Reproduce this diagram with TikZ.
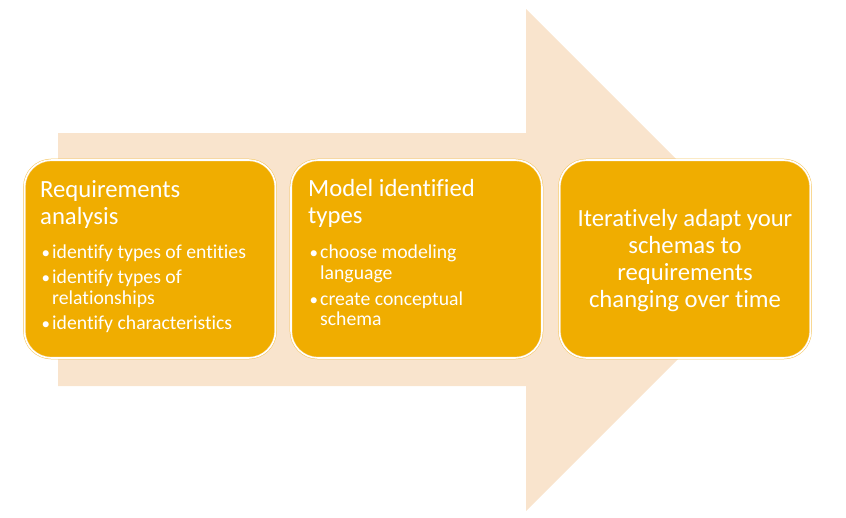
\documentclass[tikz,border=0pt]{standalone}
\usepackage{fontspec}
\setmainfont{Carlito}[Ligatures={NoCommon,NoContextual}]
\definecolor{arrowfill}{RGB}{249,228,205}
\definecolor{boxfill}{RGB}{240,173,0}
\definecolor{boxedge}{RGB}{245,196,90}
\newcommand{\bul}{\makebox[10.5pt][l]{\fontsize{17}{17}\selectfont•}}
\begin{document}
\begin{tikzpicture}[x=1pt,y=-1pt,
  stagebox/.style={draw=boxedge, line width=0.5pt, double=white, double distance=1.6pt,
    fill=boxfill, rounded corners=27pt, minimum width=251pt, minimum height=198pt, inner sep=0pt},
  titletext/.style={font=\fontsize{24.7}{27}\selectfont, text=white, inner sep=0pt, anchor=base west},
  bullettext/.style={font=\fontsize{19.7}{21}\selectfont, text=white, inner sep=0pt, anchor=base west},
  centertext/.style={font=\fontsize{24.7}{27}\selectfont, text=white, inner sep=0pt, anchor=base}
]
\useasboundingbox (0,0) rectangle (846,517);
% big background arrow
\fill[arrowfill] (58,133) -- (526,133) -- (526,9) -- (777,260) -- (526,511) -- (526,386) -- (58,386) -- cycle;
% stage boxes
\node[stagebox] (b1) at (150,259) {};
\node[stagebox] (b2) at (416.5,259) {};
\node[stagebox] (b3) at (685,259) {};
% box 1 text
\node[titletext] (t1a) at (40,197) {Requirements};
\node[titletext] (t1b) at (40,224) {analysis};
\node[bullettext] (t1c) at (41.5,258) {\bul identify types of entities};
\node[bullettext] (t1d) at (41.5,283) {\bul identify types of};
\node[bullettext] (t1e) at (52,304) {relationships};
\node[bullettext] (t1f) at (41.5,329) {\bul identify characteristics};
% box 2 text
\node[titletext] (t2a) at (308,196) {Model identified};
\node[titletext] (t2b) at (308,223) {types};
\node[bullettext] (t2c) at (309.5,258) {\bul choose modeling};
\node[bullettext] (t2d) at (320,279) {language};
\node[bullettext] (t2e) at (309.5,305) {\bul create conceptual};
\node[bullettext] (t2f) at (320,325.5) {schema};
% box 3 text
\node[centertext] (t3a) at (685,226) {Iteratively adapt your};
\node[centertext] (t3b) at (685,253) {schemas to};
\node[centertext] (t3c) at (685,280) {requirements};
\node[centertext] (t3d) at (685,307) {changing over time};
\end{tikzpicture}
\end{document}
